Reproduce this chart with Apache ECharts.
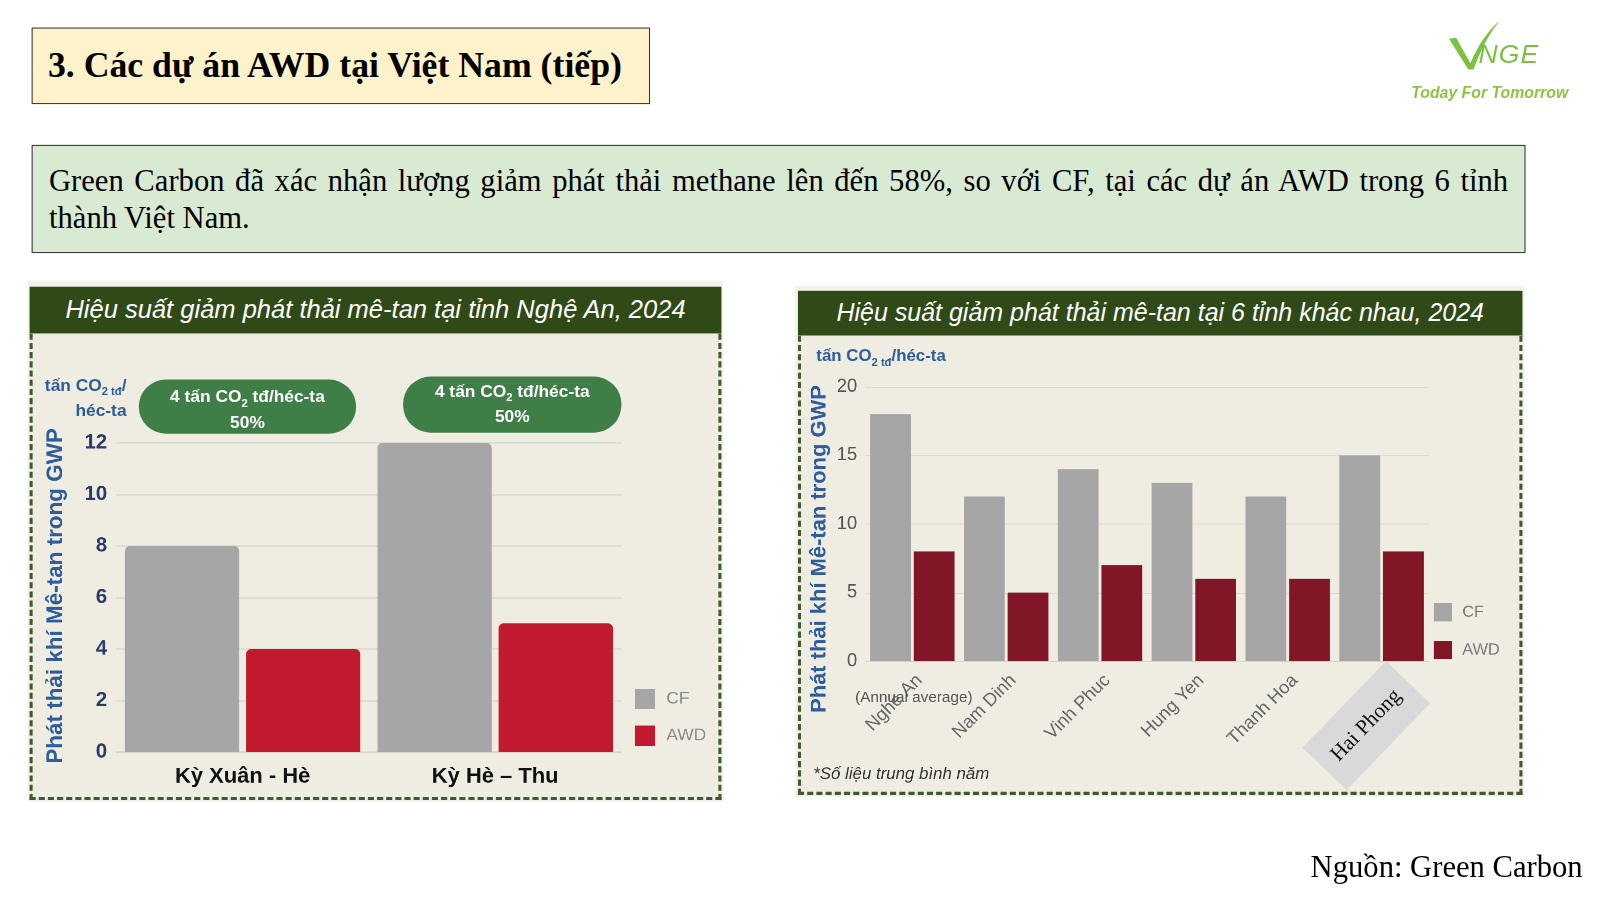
<!DOCTYPE html>
<html><head><meta charset="utf-8">
<script src="https://cdn.jsdelivr.net/npm/echarts@6/dist/echarts.min.js"></script>
<style>
html,body{margin:0;width:1600px;height:900px;background:#fff;overflow:hidden;}
#stage{position:absolute;left:0;top:0;width:1568px;height:882px;transform:scale(1.020408);transform-origin:0 0;font-family:"Liberation Sans",Arial,sans-serif;}
.abs{position:absolute;box-sizing:border-box;}
#titleBox{left:31px;top:27px;width:606px;height:75px;background:#fef2cb;border:1.5px solid #333;font-family:"Liberation Serif",serif;font-weight:bold;font-size:35px;line-height:72px;padding-left:15px;color:#000;white-space:nowrap;}
#textBox{left:31px;top:142px;width:1464px;height:106px;background:#d9ead3;border:1.5px solid #333;font-family:"Liberation Serif",serif;font-size:30px;line-height:36px;padding:16px 16px 0 16px;color:#000;}
#textBox .l1{text-align:justify;text-align-last:justify;white-space:nowrap;}
.frame{background:#f4f2ea;}
.body{background:#efede2;border:3px dashed #3d5b2c;border-top:none;}
.hdr{background:#2f4a17;color:#fff;font-style:italic;text-align:center;white-space:nowrap;}
.unit{color:#2e5b99;font-weight:bold;font-size:17px;line-height:19px;}
.unit sub{font-size:11px;}
.pill{background:#3f7e46;color:#fff;font-weight:bold;font-size:17px;line-height:20px;text-align:center;border-radius:27px;padding-top:7px;}
.pill sub{font-size:11px;}
#src{right:17px;top:832px;font-family:"Liberation Serif",serif;font-size:30px;color:#000;white-space:nowrap;}
#logoNGE{left:1449px;top:38px;font-size:26px;color:#7cc242;font-style:italic;font-family:"Liberation Sans",sans-serif;letter-spacing:1px;}
#logoTag{left:1383px;top:82px;font-size:15.5px;color:#8cc63f;font-style:italic;font-weight:bold;white-space:nowrap;}
</style></head><body>
<div id="stage">
<div id="titleBox" class="abs">3. Các dự án AWD tại Việt Nam (tiếp)</div>
<svg class="abs" style="left:1410px;top:15px;" width="70" height="60" viewBox="0 0 70 60">
  <path d="M10,23 L17,22 L31,47 C38,30 48,15 60,5 C50,17 42,32 34,53 L29,53 Z" fill="#7cc242"/>
</svg>
<div id="logoNGE" class="abs">NGE</div>
<div id="logoTag" class="abs">Today For Tomorrow</div>
<div id="textBox" class="abs"><div class="l1">Green Carbon đã xác nhận lượng giảm phát thải methane lên đến 58%, so với CF, tại các dự án AWD trong 6 tỉnh</div><div>thành Việt Nam.</div></div>

<!-- left panel -->
<div class="abs frame" style="left:27px;top:275px;width:682px;height:511px;"></div>
<div class="abs hdr" style="left:29px;top:281px;width:678px;height:46px;font-size:25px;line-height:44px;">Hiệu suất giảm phát thải mê-tan tại tỉnh Nghệ An, 2024</div>
<div class="abs body" style="left:29px;top:327px;width:678px;height:457px;"></div>
<div id="chartL" class="abs" style="left:32px;top:327px;width:672px;height:454px;"></div>
<div class="abs unit" style="left:28px;top:368px;width:96px;text-align:right;">tấn CO<sub>2 tđ</sub>/<br>héc-ta</div>
<div class="abs pill" style="left:136px;top:372px;width:213px;height:53px;">4 tấn CO<sub>2</sub> tđ/héc-ta<br>50%</div>
<div class="abs pill" style="left:395px;top:369px;width:214px;height:55px;padding-top:5px;">4 tấn CO<sub>2</sub> tđ/héc-ta<br>50%</div>

<!-- right panel -->
<div class="abs frame" style="left:779px;top:280px;width:715px;height:501px;"></div>
<div class="abs hdr" style="left:782px;top:285px;width:710px;height:44px;font-size:24.5px;line-height:44px;">Hiệu suất giảm phát thải mê-tan tại 6 tỉnh khác nhau, 2024</div>
<div class="abs body" style="left:782px;top:329px;width:710px;height:450px;"></div>
<div id="chartR" class="abs" style="left:785px;top:329px;width:704px;height:447px;"></div>
<div class="abs unit" style="left:800px;top:339px;white-space:nowrap;font-size:16.5px;">tấn CO<sub>2 tđ</sub>/héc-ta</div>

<div id="src" class="abs">Nguồn: Green Carbon</div>
</div>

<script>
// ---- data ----
const leftCategories = ['Kỳ Xuân - Hè', 'Kỳ Hè – Thu'];
const leftCF = [8, 12];
const leftAWD = [4, 5];
const rightCategories = ['Nghe An', 'Nam Dinh', 'Vinh Phuc', 'Hung Yen', 'Thanh Hoa', 'Hai Phong'];
const rightCF = [18, 12, 14, 13, 12, 15];
const rightAWD = [8, 5, 7, 6, 6, 8];
const seriesNames = ['CF', 'AWD'];
const yAxisTitle = 'Phát thải khí Mê-tan trong GWP';
const highlightedCategory = 'Hai Phong';

const FONT = '"Liberation Sans", Arial, sans-serif';

// ---- left chart ----
const cL = echarts.init(document.getElementById('chartL'), null, {renderer: 'canvas', devicePixelRatio: 2});
cL.setOption({
  animation: false,
  textStyle: {fontFamily: FONT},
  grid: {left: 82, top: 107, width: 495, height: 303, containLabel: false},
  legend: {
    orient: 'vertical', left: 585, top: 343, itemWidth: 20, itemHeight: 20, itemGap: 16,
    icon: 'rect', textStyle: {color: '#8a8a8a', fontSize: 17, fontFamily: FONT, padding: [0, 0, 0, 6]},
    data: seriesNames
  },
  xAxis: {
    type: 'category', data: leftCategories,
    axisLine: {lineStyle: {color: '#d6d4ca'}}, axisTick: {show: false},
    axisLabel: {color: '#111', fontSize: 21.5, fontWeight: 'bold', margin: 13, fontFamily: FONT}
  },
  yAxis: {
    type: 'value', min: 0, max: 12, interval: 2,
    axisLine: {show: false}, axisTick: {show: false},
    splitLine: {lineStyle: {color: '#dad8ce', width: 1.5}},
    axisLabel: {color: '#2c3a66', fontSize: 20, fontWeight: 'bold', margin: 9, fontFamily: FONT}
  },
  graphic: [{
    type: 'text', x: 23, y: 257, rotation: Math.PI / 2,
    style: {text: yAxisTitle, fill: '#2f5d9b', font: 'bold 22px ' + FONT, align: 'center', verticalAlign: 'middle'}
  }],
  series: [
    {name: seriesNames[0], type: 'bar', data: leftCF, barWidth: 112, barGap: '6%',
     itemStyle: {color: '#a6a6a6', borderRadius: [5, 5, 0, 0]}},
    {name: seriesNames[1], type: 'bar', data: leftAWD, barWidth: 112,
     itemStyle: {color: '#c1192d', borderRadius: [5, 5, 0, 0]}}
  ]
});

// ---- right chart ----
const cR = echarts.init(document.getElementById('chartR'), null, {renderer: 'canvas', devicePixelRatio: 2});
cR.setOption({
  animation: false,
  textStyle: {fontFamily: FONT},
  grid: {left: 63, top: 50, width: 552, height: 269, containLabel: false},
  legend: {
    orient: 'vertical', left: 615, top: 257, itemWidth: 18, itemHeight: 18, itemGap: 19,
    icon: 'rect', textStyle: {color: '#7a7a7a', fontSize: 16, fontFamily: FONT, padding: [0, 0, 0, 5]},
    data: seriesNames
  },
  xAxis: {
    type: 'category', data: rightCategories,
    axisLine: {lineStyle: {color: '#d6d4ca'}}, axisTick: {show: false},
    axisLabel: {
      rotate: 45, margin: 9, interval: 0, color: '#666', fontSize: 18, fontFamily: FONT,
      formatter: function (v) { return v === highlightedCategory ? '' : '{s| }\n{t|' + v + '}'; },
      rich: {s: {height: 20, fontSize: 10}, t: {fontSize: 18, color: '#666', fontFamily: FONT, height: 20}}
    }
  },
  yAxis: {
    type: 'value', min: 0, max: 20, interval: 5,
    axisLine: {show: false}, axisTick: {show: false},
    splitLine: {lineStyle: {color: '#dcdad2', width: 1}},
    axisLabel: {color: '#555', fontSize: 18, margin: 8, fontFamily: FONT}
  },
  series: [
    {name: seriesNames[0], type: 'bar', data: rightCF, barWidth: 40, barGap: '7%', itemStyle: {color: '#a5a5a5'}},
    {name: seriesNames[1], type: 'bar', data: rightAWD, barWidth: 40, itemStyle: {color: '#801626'}}
  ]
});

// highlighted category label (grey tilted box), anchored to the axis position of that category
const hpX = cR.convertToPixel({xAxisIndex: 0}, highlightedCategory);
const axisY = cR.convertToPixel({yAxisIndex: 0}, 0);
cR.setOption({
  graphic: [
    {type: 'text', x: 18, y: 209, rotation: Math.PI / 2,
     style: {text: yAxisTitle, fill: '#2f5d9b', font: 'bold 21.5px ' + FONT, align: 'center', verticalAlign: 'middle'}},
    {type: 'text', x: 53, y: 355, z: 10,
     style: {text: '(Annual average)', fill: '#555', font: '15px ' + FONT, verticalAlign: 'middle'}},
    {type: 'text', x: 12, y: 430,
     style: {text: '*Số liệu trung bình năm', fill: '#333', font: 'italic 16.5px ' + FONT, verticalAlign: 'middle'}},
    {type: 'group', x: hpX - 15, y: axisY + 63, rotation: 46 * Math.PI / 180, z: 20,
     children: [
       {type: 'rect', shape: {x: -59, y: -30, width: 118, height: 60}, style: {fill: '#d9d9d9'}},
       {type: 'text', style: {text: highlightedCategory, fill: '#111', font: '21px "Liberation Serif", serif',
                              align: 'center', verticalAlign: 'middle'}, x: 0, y: 0}
     ]}
  ]
});
</script>
</body></html>
